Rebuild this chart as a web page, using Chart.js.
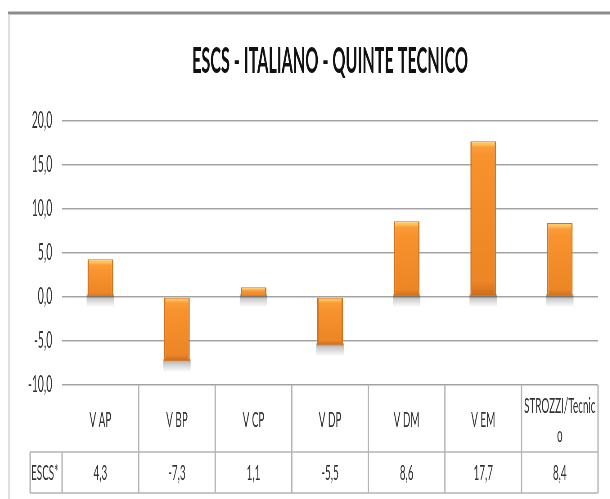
<!DOCTYPE html>
<html>
<head>
<meta charset="utf-8">
<script src="https://cdn.jsdelivr.net/npm/chart.js@4/dist/chart.umd.min.js"></script>
<style>
  html, body { margin: 0; padding: 0; background: #fff; overflow: hidden; }
  /* the original chart is horizontally squashed: draw wide, show narrowed */
  #wrap { width: 1356px; height: 499px; transform: scaleX(0.45); transform-origin: 0 0; }
</style>
</head>
<body>
<div id="wrap"><canvas id="escsChart"></canvas></div>
<script>
// data
const categories = ['V AP', 'V BP', 'V CP', 'V DP', 'V DM', 'V EM', ['STROZZI/Tecnic', 'o']];
const seriesName = 'ESCS*';
const escsValues = [4.3, -7.3, 1.1, -5.5, 8.6, 17.7, 8.4];
const yTicks = [-10, -5, 0, 5, 10, 15, 20];

const FONT = "Lato, 'Open Sans', sans-serif";
const TEXT = '#333333';

function fmt(v) {
    return v.toFixed(1).replace('.', ',');
}

// frame + data table under the plot
const tablePlugin = {
    id: 'dataTable',
    beforeDraw(chart) {
        const ctx = chart.ctx;
        ctx.save();
        ctx.strokeStyle = '#8c8c8c';
        ctx.lineWidth = 3;
        ctx.beginPath();
        ctx.moveTo(18, 13);
        ctx.lineTo(chart.width, 13);
        ctx.stroke();
        ctx.strokeStyle = '#d4d4d4';
        ctx.lineWidth = 3;
        ctx.beginPath();
        ctx.moveTo(20, 14);
        ctx.lineTo(20, chart.height);
        ctx.stroke();
        ctx.restore();
    },
    afterDraw(chart) {
        const ctx = chart.ctx;
        const x = chart.scales.x;
        const area = chart.chartArea;
        const step = x.getPixelForValue(1) - x.getPixelForValue(0);
        const top = area.bottom;
        const mid = top + 67;
        const bottom = top + 108;
        const left = 67;
        ctx.save();
        ctx.strokeStyle = '#b4b4b4';
        ctx.lineWidth = 1.5;
        ctx.beginPath();
        ctx.moveTo(left, mid); ctx.lineTo(area.right, mid);
        ctx.moveTo(left, bottom); ctx.lineTo(area.right, bottom);
        ctx.stroke();
        ctx.lineWidth = 3;
        ctx.beginPath();
        ctx.moveTo(left, mid); ctx.lineTo(left, bottom);
        ctx.moveTo(area.left, mid); ctx.lineTo(area.left, bottom);
        for (let i = 0; i < categories.length; i++) {
            const r = x.getPixelForValue(i) + step / 2;
            ctx.moveTo(r, top); ctx.lineTo(r, bottom);
        }
        ctx.stroke();

        ctx.fillStyle = TEXT;
        ctx.font = '22px ' + FONT;
        ctx.textAlign = 'center';
        ctx.textBaseline = 'middle';
        categories.forEach((c, i) => {
            const cx = x.getPixelForValue(i);
            const lines = Array.isArray(c) ? c : [c];
            const lh = 29;
            const y0 = top + 35 - (lines.length - 1) * lh / 2;
            lines.forEach((l, k) => ctx.fillText(l, cx, y0 + k * lh));
            ctx.fillText(fmt(escsValues[i]), cx, mid + 21);
        });
        ctx.textAlign = 'left';
        ctx.fillText(seriesName, left + 2, mid + 21);
        ctx.restore();
    }
};

// soft grey shadow under the end of every bar
const shadowPlugin = {
    id: 'barShadow',
    beforeDatasetsDraw(chart) {
        const ctx = chart.ctx;
        ctx.save();
        chart.getDatasetMeta(0).data.forEach(el => {
            const bot = Math.max(el.y, el.base);
            const g = ctx.createLinearGradient(0, bot - 2, 0, bot + 11);
            g.addColorStop(0, 'rgba(0,0,0,0.35)');
            g.addColorStop(0.4, 'rgba(0,0,0,0.18)');
            g.addColorStop(1, 'rgba(0,0,0,0)');
            ctx.fillStyle = g;
            ctx.fillRect(el.x - el.width / 2 - 2, bot - 2, el.width + 4, 13);
        });
        ctx.restore();
    }
};

function barFill(c) {
    const chart = c.chart;
    if (!chart.chartArea || c.dataIndex === undefined) return '#f7922c';
    const v = escsValues[c.dataIndex];
    const y = chart.scales.y;
    const y1 = y.getPixelForValue(Math.max(v, 0));
    const y2 = y.getPixelForValue(Math.min(v, 0));
    const g = chart.ctx.createLinearGradient(0, y1, 0, y2);
    const h = Math.min(0.35, 6 / Math.max(y2 - y1, 1));
    g.addColorStop(0, '#ffd27a');
    g.addColorStop(h * 0.6, '#ffbb55');
    g.addColorStop(h, '#fb9c38');
    g.addColorStop(Math.min(0.5, h * 2.5), '#f7922d');
    g.addColorStop(0.9, '#ec8626');
    g.addColorStop(1, '#c96a1b');
    return g;
}

const ctx = document.getElementById('escsChart').getContext('2d');
new Chart(ctx, {
    type: 'bar',
    data: {
        labels: categories,
        datasets: [{
            label: seriesName,
            data: escsValues,
            backgroundColor: barFill,
            borderColor: '#d4731f',
            borderWidth: { left: 3, right: 3, top: 1, bottom: 1 },
            borderSkipped: false,
            barPercentage: 0.335,
            categoryPercentage: 1
        }]
    },
    options: {
        responsive: true,
        maintainAspectRatio: false,
        animation: false,
        layout: {
            padding: { left: 18, right: 27, top: 0, bottom: 114 }
        },
        plugins: {
            legend: { display: false },
            tooltip: { enabled: false },
            title: {
                display: true,
                text: 'ESCS - ITALIANO - QUINTE TECNICO',
                fullSize: false,
                color: '#111111',
                font: { family: FONT, size: 36, weight: 'bold' },
                padding: { top: 39.4, bottom: 38.4 }
            }
        },
        scales: {
            x: { display: false },
            y: {
                min: -10,
                max: 20,
                afterFit(s) { s.width = 120; },
                afterBuildTicks(s) { s.ticks = yTicks.map(v => ({ value: v })); },
                border: { display: false },
                grid: { color: '#a3a3a3', lineWidth: 1.5, drawTicks: false },
                ticks: {
                    color: TEXT,
                    padding: 22,
                    font: { family: FONT, size: 23 },
                    callback: v => fmt(v)
                }
            }
        }
    },
    plugins: [tablePlugin, shadowPlugin]
});
</script>
</body>
</html>
